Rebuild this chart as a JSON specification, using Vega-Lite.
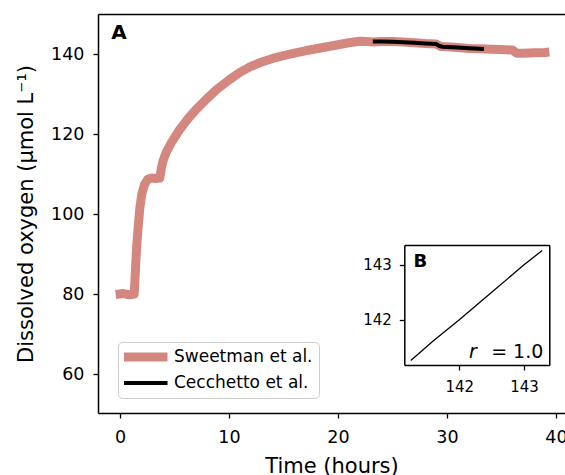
{
  "$schema": "https://vega.github.io/schema/vega-lite/v6.json",
  "width": 467,
  "height": 399,
  "autosize": {"type": "none"},
  "padding": {"left": 98, "top": 14, "right": 0, "bottom": 62},
  "config": {
    "font": "DejaVu Sans",
    "view": {"stroke": null},
    "axis": {"grid": false, "domainColor": "black", "domainWidth": 1.5, "tickColor": "black", "tickWidth": 1.3, "labelColor": "black", "titleColor": "black", "titleFontWeight": "normal", "labelFont": "DejaVu Sans", "titleFont": "DejaVu Sans"}
  },
  "datasets": {
    "main": [
      {"source": "Sweetman et al.", "time": -0.4, "oxygen": 79.9},
      {"source": "Sweetman et al.", "time": 0.3, "oxygen": 80.1},
      {"source": "Sweetman et al.", "time": 0.9, "oxygen": 79.8},
      {"source": "Sweetman et al.", "time": 1.3, "oxygen": 80.0},
      {"source": "Sweetman et al.", "time": 1.38, "oxygen": 84.0},
      {"source": "Sweetman et al.", "time": 1.46, "oxygen": 88.5},
      {"source": "Sweetman et al.", "time": 1.56, "oxygen": 93.0},
      {"source": "Sweetman et al.", "time": 1.67, "oxygen": 96.8},
      {"source": "Sweetman et al.", "time": 1.82, "oxygen": 101.5},
      {"source": "Sweetman et al.", "time": 2.0, "oxygen": 105.0},
      {"source": "Sweetman et al.", "time": 2.25, "oxygen": 107.4},
      {"source": "Sweetman et al.", "time": 2.55, "oxygen": 108.7},
      {"source": "Sweetman et al.", "time": 2.9, "oxygen": 109.0},
      {"source": "Sweetman et al.", "time": 3.3, "oxygen": 108.9},
      {"source": "Sweetman et al.", "time": 3.65, "oxygen": 109.0},
      {"source": "Sweetman et al.", "time": 3.8, "oxygen": 111.5},
      {"source": "Sweetman et al.", "time": 3.95, "oxygen": 113.3},
      {"source": "Sweetman et al.", "time": 4.25, "oxygen": 115.5},
      {"source": "Sweetman et al.", "time": 4.7, "oxygen": 117.8},
      {"source": "Sweetman et al.", "time": 5.45, "oxygen": 121.0},
      {"source": "Sweetman et al.", "time": 6.2, "oxygen": 123.7},
      {"source": "Sweetman et al.", "time": 7.0, "oxygen": 126.2},
      {"source": "Sweetman et al.", "time": 8.0, "oxygen": 128.9},
      {"source": "Sweetman et al.", "time": 8.9, "oxygen": 131.2},
      {"source": "Sweetman et al.", "time": 10.0, "oxygen": 133.5},
      {"source": "Sweetman et al.", "time": 11.0, "oxygen": 135.4},
      {"source": "Sweetman et al.", "time": 12.0, "oxygen": 136.9},
      {"source": "Sweetman et al.", "time": 13.0, "oxygen": 138.0},
      {"source": "Sweetman et al.", "time": 14.0, "oxygen": 138.9},
      {"source": "Sweetman et al.", "time": 15.0, "oxygen": 139.6},
      {"source": "Sweetman et al.", "time": 16.0, "oxygen": 140.2},
      {"source": "Sweetman et al.", "time": 17.0, "oxygen": 140.8},
      {"source": "Sweetman et al.", "time": 18.0, "oxygen": 141.3},
      {"source": "Sweetman et al.", "time": 19.0, "oxygen": 141.8},
      {"source": "Sweetman et al.", "time": 20.0, "oxygen": 142.3},
      {"source": "Sweetman et al.", "time": 21.0, "oxygen": 142.8},
      {"source": "Sweetman et al.", "time": 22.0, "oxygen": 143.2},
      {"source": "Sweetman et al.", "time": 22.6, "oxygen": 143.1},
      {"source": "Sweetman et al.", "time": 23.2, "oxygen": 143.0},
      {"source": "Sweetman et al.", "time": 24.0, "oxygen": 143.1},
      {"source": "Sweetman et al.", "time": 25.0, "oxygen": 143.1},
      {"source": "Sweetman et al.", "time": 26.0, "oxygen": 143.0},
      {"source": "Sweetman et al.", "time": 27.0, "oxygen": 142.8},
      {"source": "Sweetman et al.", "time": 28.0, "oxygen": 142.6},
      {"source": "Sweetman et al.", "time": 29.0, "oxygen": 142.5},
      {"source": "Sweetman et al.", "time": 29.4, "oxygen": 141.9},
      {"source": "Sweetman et al.", "time": 30.0, "oxygen": 141.8},
      {"source": "Sweetman et al.", "time": 31.0, "oxygen": 141.6},
      {"source": "Sweetman et al.", "time": 32.0, "oxygen": 141.4},
      {"source": "Sweetman et al.", "time": 33.0, "oxygen": 141.3},
      {"source": "Sweetman et al.", "time": 34.0, "oxygen": 141.2},
      {"source": "Sweetman et al.", "time": 35.0, "oxygen": 141.1},
      {"source": "Sweetman et al.", "time": 36.0, "oxygen": 141.0},
      {"source": "Sweetman et al.", "time": 36.4, "oxygen": 140.2},
      {"source": "Sweetman et al.", "time": 37.0, "oxygen": 140.2},
      {"source": "Sweetman et al.", "time": 38.0, "oxygen": 140.3},
      {"source": "Sweetman et al.", "time": 39.0, "oxygen": 140.4},
      {"source": "Sweetman et al.", "time": 39.4, "oxygen": 140.5},
      {"source": "Cecchetto et al.", "time": 23.2, "oxygen": 143.1},
      {"source": "Cecchetto et al.", "time": 24.0, "oxygen": 143.1},
      {"source": "Cecchetto et al.", "time": 25.0, "oxygen": 143.05},
      {"source": "Cecchetto et al.", "time": 26.0, "oxygen": 142.95},
      {"source": "Cecchetto et al.", "time": 27.0, "oxygen": 142.8},
      {"source": "Cecchetto et al.", "time": 28.0, "oxygen": 142.65},
      {"source": "Cecchetto et al.", "time": 29.0, "oxygen": 142.5},
      {"source": "Cecchetto et al.", "time": 29.3, "oxygen": 142.0},
      {"source": "Cecchetto et al.", "time": 29.6, "oxygen": 141.8},
      {"source": "Cecchetto et al.", "time": 30.0, "oxygen": 141.75},
      {"source": "Cecchetto et al.", "time": 31.0, "oxygen": 141.6},
      {"source": "Cecchetto et al.", "time": 32.0, "oxygen": 141.45},
      {"source": "Cecchetto et al.", "time": 33.0, "oxygen": 141.3},
      {"source": "Cecchetto et al.", "time": 33.4, "oxygen": 141.25}
    ],
    "inset": [
      {"sweetman": 141.25, "cecchetto": 141.26},
      {"sweetman": 141.6, "cecchetto": 141.62},
      {"sweetman": 142.0, "cecchetto": 142.0},
      {"sweetman": 142.5, "cecchetto": 142.5},
      {"sweetman": 143.0, "cecchetto": 143.0},
      {"sweetman": 143.28, "cecchetto": 143.26}
    ]
  },
  "layer": [
    {
      "data": {"name": "main"},
      "mark": {"type": "line", "strokeCap": "butt", "strokeJoin": "round"},
      "encoding": {
        "x": {"field": "time", "type": "quantitative", "scale": {"domain": [-2.02, 40.83], "nice": false, "zero": false},
          "axis": {"orient": "bottom", "values": [0, 10, 20, 30, 40], "title": "Time (hours)", "labelFontSize": 17.5, "titleFontSize": 21, "tickSize": 5, "labelPadding": 10, "titlePadding": 10, "labelFlush": false}},
        "y": {"field": "oxygen", "type": "quantitative", "scale": {"domain": [50.25, 150], "nice": false, "zero": false},
          "axis": {"orient": "left", "values": [60, 80, 100, 120, 140], "title": "Dissolved oxygen (µmol L⁻¹)", "labelFontSize": 17.5, "titleFontSize": 21, "tickSize": 5, "labelPadding": 9, "titlePadding": 14, "labelFlush": false}},
        "color": {"field": "source", "type": "ordinal", "scale": {"domain": ["Sweetman et al.", "Cecchetto et al."], "range": ["#d4877f", "#000000"]},
          "legend": {"title": null, "orient": "none", "legendX": 20, "legendY": 328, "labelFontSize": 17, "labelColor": "black", "symbolType": "stroke", "symbolSize": 1936, "clipHeight": 18, "symbolOffset": -5, "labelOffset": 2, "rowPadding": 8, "padding": 6, "strokeColor": "#cccccc", "fillColor": "white", "cornerRadius": 4}},
        "strokeWidth": {"field": "source", "type": "ordinal", "scale": {"domain": ["Sweetman et al.", "Cecchetto et al."], "range": [9, 4]},
          "legend": {"title": null, "orient": "none", "legendX": 20, "legendY": 328, "labelFontSize": 17, "labelColor": "black", "symbolType": "stroke", "symbolSize": 1936, "clipHeight": 18, "symbolOffset": -5, "labelOffset": 2, "rowPadding": 8, "padding": 6, "strokeColor": "#cccccc", "fillColor": "white", "cornerRadius": 4}}
      }
    },
    {
      "data": {"values": [{"label": "A"}]},
      "mark": {"type": "text", "fontSize": 20, "fontWeight": "bold", "align": "center", "baseline": "alphabetic", "color": "black"},
      "encoding": {
        "text": {"field": "label"},
        "x": {"datum": -0.1, "type": "quantitative", "scale": {"domain": [-2.02, 40.83], "nice": false, "zero": false},
          "axis": {"orient": "top", "labels": false, "ticks": false, "title": null}},
        "y": {"datum": 143.675, "type": "quantitative", "scale": {"domain": [50.25, 150], "nice": false, "zero": false}, "axis": null}
      }
    },
    {
      "data": {"name": "inset"},
      "mark": {"type": "line", "color": "black", "strokeWidth": 1.3},
      "encoding": {
        "x": {"field": "sweetman", "type": "quantitative", "scale": {"domain": [141.15, 143.39], "range": [306.3, 451.3], "nice": false, "zero": false},
          "axis": {"orient": "bottom", "offset": -48, "values": [142, 143], "labelFontSize": 15, "tickSize": 5, "labelPadding": 9, "title": null, "labelFlush": false}},
        "y": {"field": "cecchetto", "type": "quantitative", "scale": {"domain": [141.18, 143.36], "range": [351, 231], "nice": false, "zero": false},
          "axis": {"orient": "left", "offset": -306.3, "values": [142, 143], "labelFontSize": 15, "tickSize": 5, "labelPadding": 8, "title": null, "labelFlush": false}}
      }
    },
    {
      "data": {"values": [{"label": "B"}]},
      "mark": {"type": "text", "fontSize": 18, "fontWeight": "bold", "align": "center", "baseline": "alphabetic", "color": "black"},
      "encoding": {
        "text": {"field": "label"},
        "x": {"datum": 141.397, "type": "quantitative", "scale": {"domain": [141.15, 143.39], "range": [306.3, 451.3], "nice": false, "zero": false},
          "axis": {"orient": "top", "offset": -231, "labels": false, "ticks": false, "title": null}},
        "y": {"datum": 142.958, "type": "quantitative", "scale": {"domain": [141.18, 143.36], "range": [351, 231], "nice": false, "zero": false},
          "axis": {"orient": "right", "offset": -15.7, "labels": false, "ticks": false, "title": null}}
      }
    },
    {
      "data": {"values": [{"label": "r"}]},
      "mark": {"type": "text", "fontSize": 19, "fontStyle": "italic", "align": "right", "baseline": "alphabetic", "color": "black"},
      "encoding": {
        "text": {"field": "label"},
        "x": {"datum": 142.27, "type": "quantitative", "scale": {"domain": [141.15, 143.39], "range": [306.3, 451.3], "nice": false, "zero": false}, "axis": null},
        "y": {"datum": 141.30, "type": "quantitative", "scale": {"domain": [141.18, 143.36], "range": [351, 231], "nice": false, "zero": false}, "axis": null}
      }
    },
    {
      "data": {"values": [{"label": "= 1.0"}]},
      "mark": {"type": "text", "fontSize": 19, "align": "right", "baseline": "alphabetic", "color": "black"},
      "encoding": {
        "text": {"field": "label"},
        "x": {"datum": 143.298, "type": "quantitative", "scale": {"domain": [141.15, 143.39], "range": [306.3, 451.3], "nice": false, "zero": false}, "axis": null},
        "y": {"datum": 141.30, "type": "quantitative", "scale": {"domain": [141.18, 143.36], "range": [351, 231], "nice": false, "zero": false}, "axis": null}
      }
    }
  ],
  "resolve": {
    "scale": {"x": "independent", "y": "independent", "color": "independent", "strokeWidth": "independent"},
    "axis": {"x": "independent", "y": "independent"}
  }
}
